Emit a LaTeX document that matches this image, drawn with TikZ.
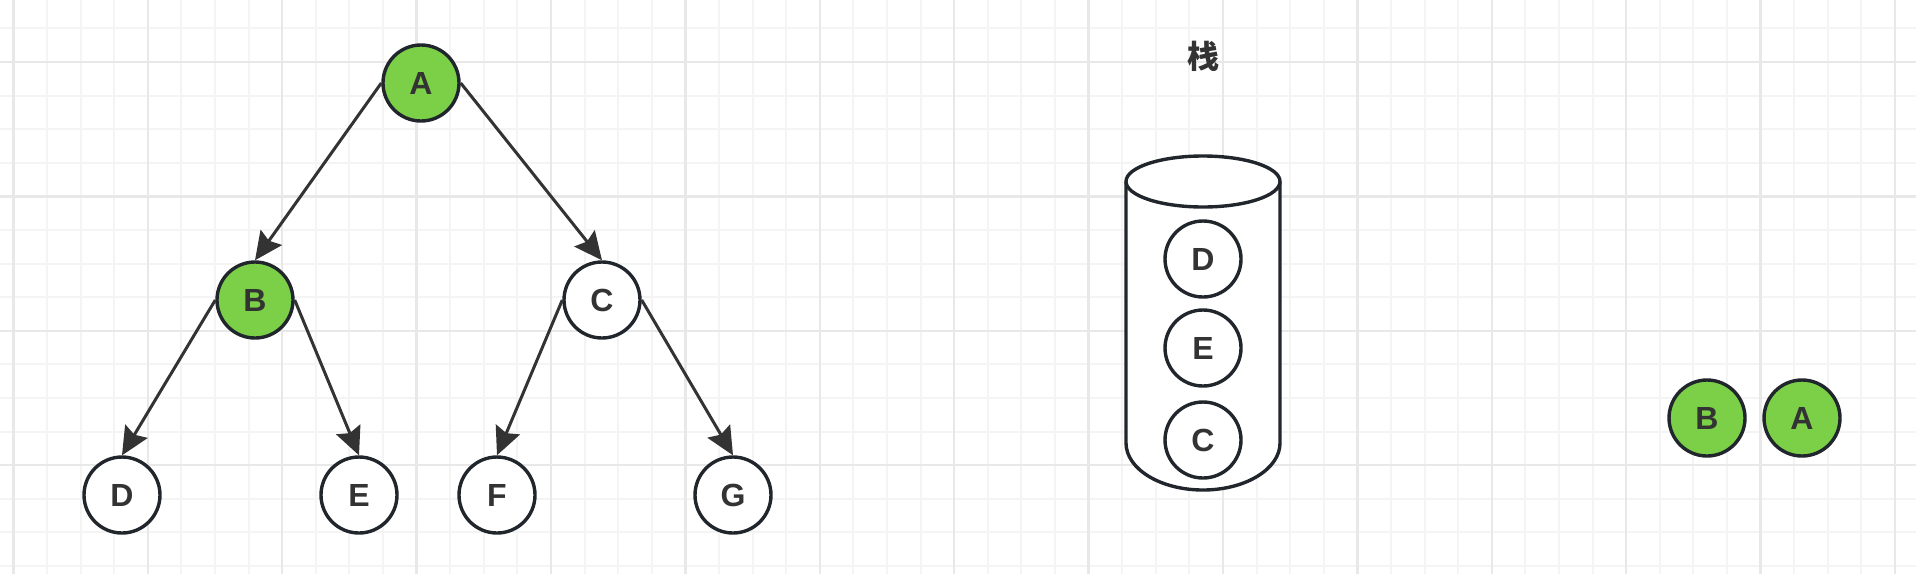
\documentclass[tikz,border=0pt]{standalone}
\usepackage{fontspec}
\setmainfont{Liberation Sans}
\newfontfamily\cjk{Noto Sans CJK SC}
\usetikzlibrary{arrows.meta}
\definecolor{gridminor}{RGB}{244,244,244}
\definecolor{gridmajor}{RGB}{232,232,232}
\definecolor{ringcol}{RGB}{33,38,45}
\definecolor{edgecol}{RGB}{51,51,51}
\definecolor{txt}{RGB}{51,51,51}
\definecolor{visit}{RGB}{123,208,72}
\tikzset{
  tnode/.style={circle, draw=ringcol, line width=1.7pt, minimum size=38pt,
    inner sep=0pt, fill=white, text=txt, font=\bfseries\fontsize{16}{18}\selectfont},
  hit/.style={tnode, fill=visit},
  edge/.style={line width=1.5pt, draw=edgecol,
    -{Stealth[length=14pt, width=13pt, inset=2pt]}}
}

\begin{document}
\begin{tikzpicture}[x=0.5pt, y=-0.5pt]
  \useasboundingbox (0,0) rectangle (1916,574);
  \fill[white] (0,0) rectangle (1916,574);
  % the grid
  \begin{scope}
    \clip (0,0) rectangle (1916,574);
    \foreach \k in {0,...,57}
      \draw[gridminor, line width=1pt] (13.4+33.6*\k,0)--++(0,574);
    \foreach \k in {-2,...,15}
      \draw[gridminor, line width=1pt] (0,62+33.6*\k)--++(1916,0);
    \foreach \k in {0,4,...,56}
      \draw[gridmajor, line width=1.2pt] (13.4+33.6*\k,0)--++(0,574);
    \foreach \k in {-4,0,...,16}
      \draw[gridmajor, line width=1.2pt] (0,62+33.6*\k)--++(1916,0);
  \end{scope}

  % the tree
  \node[hit]   (A) at (421,83)  {A};
  \node[hit]   (B) at (255,300) {B};
  \node[tnode] (C) at (602,300) {C};
  \node[tnode] (D) at (122,495) {D};
  \node[tnode] (E) at (359,495) {E};
  \node[tnode] (F) at (497,495) {F};
  \node[tnode] (G) at (733,495) {G};
  \draw[edge] (A.west)--(B.north);
  \draw[edge] (A.east)--(C.north);
  \draw[edge] (B.west)--(D.north);
  \draw[edge] (B.east)--(E.north);
  \draw[edge] (C.west)--(F.north);
  \draw[edge] (C.east)--(G.north);

  % the stack
  \node[text=txt, font=\cjk\bfseries\fontsize{16}{18}\selectfont] (title) at (1203,56) {栈};
  \draw[ringcol, line width=1.7pt, fill=white]
    (1126,181.5) arc[start angle=180, end angle=0, x radius=77, y radius=-25.5]
    -- (1280,443) arc[start angle=0, end angle=-180, x radius=77, y radius=-47]
    -- cycle;
  \draw[ringcol, line width=1.7pt]
    (1126,181.5) arc[start angle=180, end angle=360, x radius=77, y radius=-25.5];
  \node[tnode] (sD) at (1203,259) {D};
  \node[tnode] (sE) at (1203,348) {E};
  \node[tnode] (sC) at (1203,440) {C};

  % visited so far
  \node[hit] (outB) at (1707,418) {B};
  \node[hit] (outA) at (1802,418) {A};
\end{tikzpicture}
\end{document}
